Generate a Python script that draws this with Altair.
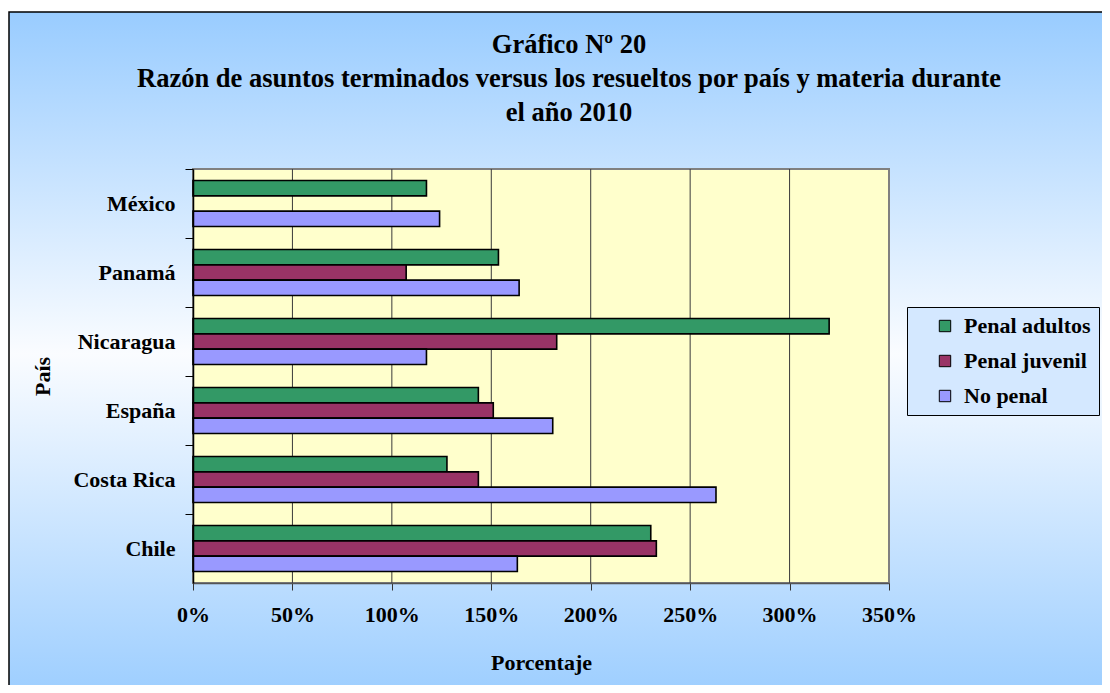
import altair as alt
import pandas as pd

# ---- data ----
paises = ["México", "Panamá", "Nicaragua", "España", "Costa Rica", "Chile"]
series = ["Penal adultos", "Penal juvenil", "No penal"]
penal_adultos = [117.4, 153.6, 319.9, 143.5, 127.7, 230.2]
penal_juvenil = [None, 107.2, 182.9, 151.0, 143.5, 233.0]
no_penal = [124.0, 164.0, 117.4, 180.9, 263.0, 163.1]
x_ticks = [0, 50, 100, 150, 200, 250, 300, 350]
grid_vals = [50, 100, 150, 200, 250, 300]
colores = ["#339966", "#993366", "#9999FF"]
titulo = [
    "Gráfico Nº 20",
    "Razón de asuntos terminados versus los resueltos por país y materia durante",
    "el año 2010",
]

rows = []
for serie, vals in zip(series, [penal_adultos, penal_juvenil, no_penal]):
    for p, v in zip(paises, vals):
        if v is not None:
            rows.append({"País": p, "Serie": serie, "Valor": v})
df = pd.DataFrame(rows)

W, H = 696, 414
FONT = "Liberation Serif"
one = pd.DataFrame({"k": [0]})

xscale = alt.Scale(domain=[0, 350], nice=False, zero=True)
xaxis = alt.Axis(
    values=x_ticks, labelExpr="datum.value + '%'", grid=False,
    title="Porcentaje", titleFont=FONT, titleFontSize=22, titleFontWeight="bold",
    titleColor="black", titleX=348, titleY=79, titleAlign="center",
    titleBaseline="middle",
    labelFont=FONT, labelFontSize=22, labelFontWeight="bold", labelColor="black",
    labelPadding=14, labelFlush=False, tickSize=7, tickColor="#333333",
    domainColor="#555555", domainWidth=1.5, zindex=1,
)

bg = alt.Chart(one).mark_rect(
    fill=alt.Gradient(
        gradient="linear", x1=0, y1=0, x2=0, y2=1,
        stops=[
            alt.GradientStop(color="#99CCFF", offset=0),
            alt.GradientStop(color="#FAFCFF", offset=0.49),
            alt.GradientStop(color="#99CCFF", offset=1),
        ],
    ),
    stroke="#000000", strokeWidth=1.5,
).encode(x=alt.value(-184), x2=alt.value(930), y=alt.value(-157), y2=alt.value(540))

plotbg = alt.Chart(one).mark_rect(
    fill="#FFFFCC", stroke="#808080", strokeWidth=2
).encode(x=alt.value(0), x2=alt.value(W), y=alt.value(0), y2=alt.value(H))

grid = alt.Chart(pd.DataFrame({"Valor": grid_vals})).mark_rule(
    color="#3a3a3a", strokeWidth=1
).encode(x=alt.X("Valor:Q", scale=xscale, axis=xaxis))

bars = alt.Chart(df).mark_bar(stroke="#000000", strokeWidth=1.6).encode(
    y=alt.Y(
        "País:N", sort=paises,
        scale=alt.Scale(paddingInner=0.3333, paddingOuter=0.1667),
        axis=alt.Axis(
            title="País", titleFont=FONT, titleFontSize=22, titleFontWeight="bold",
            titleColor="black", titleAngle=270, titleX=-151, titleY=207,
            titleAlign="center", titleBaseline="middle",
            labelFont=FONT, labelFontSize=22, labelFontWeight="bold", labelColor="black",
            labelPadding=10, tickSize=8, tickColor="#000000", tickWidth=1,
            tickOffset=-34.5, labelOffset=34.5,
            domainColor="#000000", domainWidth=1.5, grid=False, zindex=1,
        ),
    ),
    yOffset=alt.YOffset("Serie:N", sort=series, scale=alt.Scale(paddingInner=0, paddingOuter=0)),
    x=alt.X("Valor:Q", scale=xscale, axis=xaxis),
    color=alt.Color(
        "Serie:N", sort=series,
        scale=alt.Scale(domain=series, range=colores),
        legend=alt.Legend(
            title=None, orient="none", legendX=714, legendY=138, direction="vertical",
            fillColor="#D4E8FF", strokeColor="#000000", padding=8,
            symbolType="square", symbolSize=130, symbolStrokeColor="#000000",
            symbolStrokeWidth=1, symbolOffset=19,
            labelFont=FONT, labelFontSize=22, labelFontWeight="bold", labelColor="black",
            labelOffset=8, rowPadding=13, labelLimit=300, zindex=1,
        ),
    ),
)

chart = alt.layer(bg, plotbg, grid, bars).properties(
    width=W, height=H,
    autosize=alt.AutoSizeParams(type="none"),
    padding={"left": 185, "top": 161, "right": 213, "bottom": 102},
    background="white",
    title=alt.Title(
        text=titulo, font=FONT, fontSize=26.5, fontWeight="bold", color="black",
        anchor="middle", frame="group", lineHeight=34, offset=0, dx=28, dy=115,
        zindex=1,
    ),
).configure_view(strokeWidth=0)

chart.save("out.html", embed_options={"renderer": "svg", "actions": False})
